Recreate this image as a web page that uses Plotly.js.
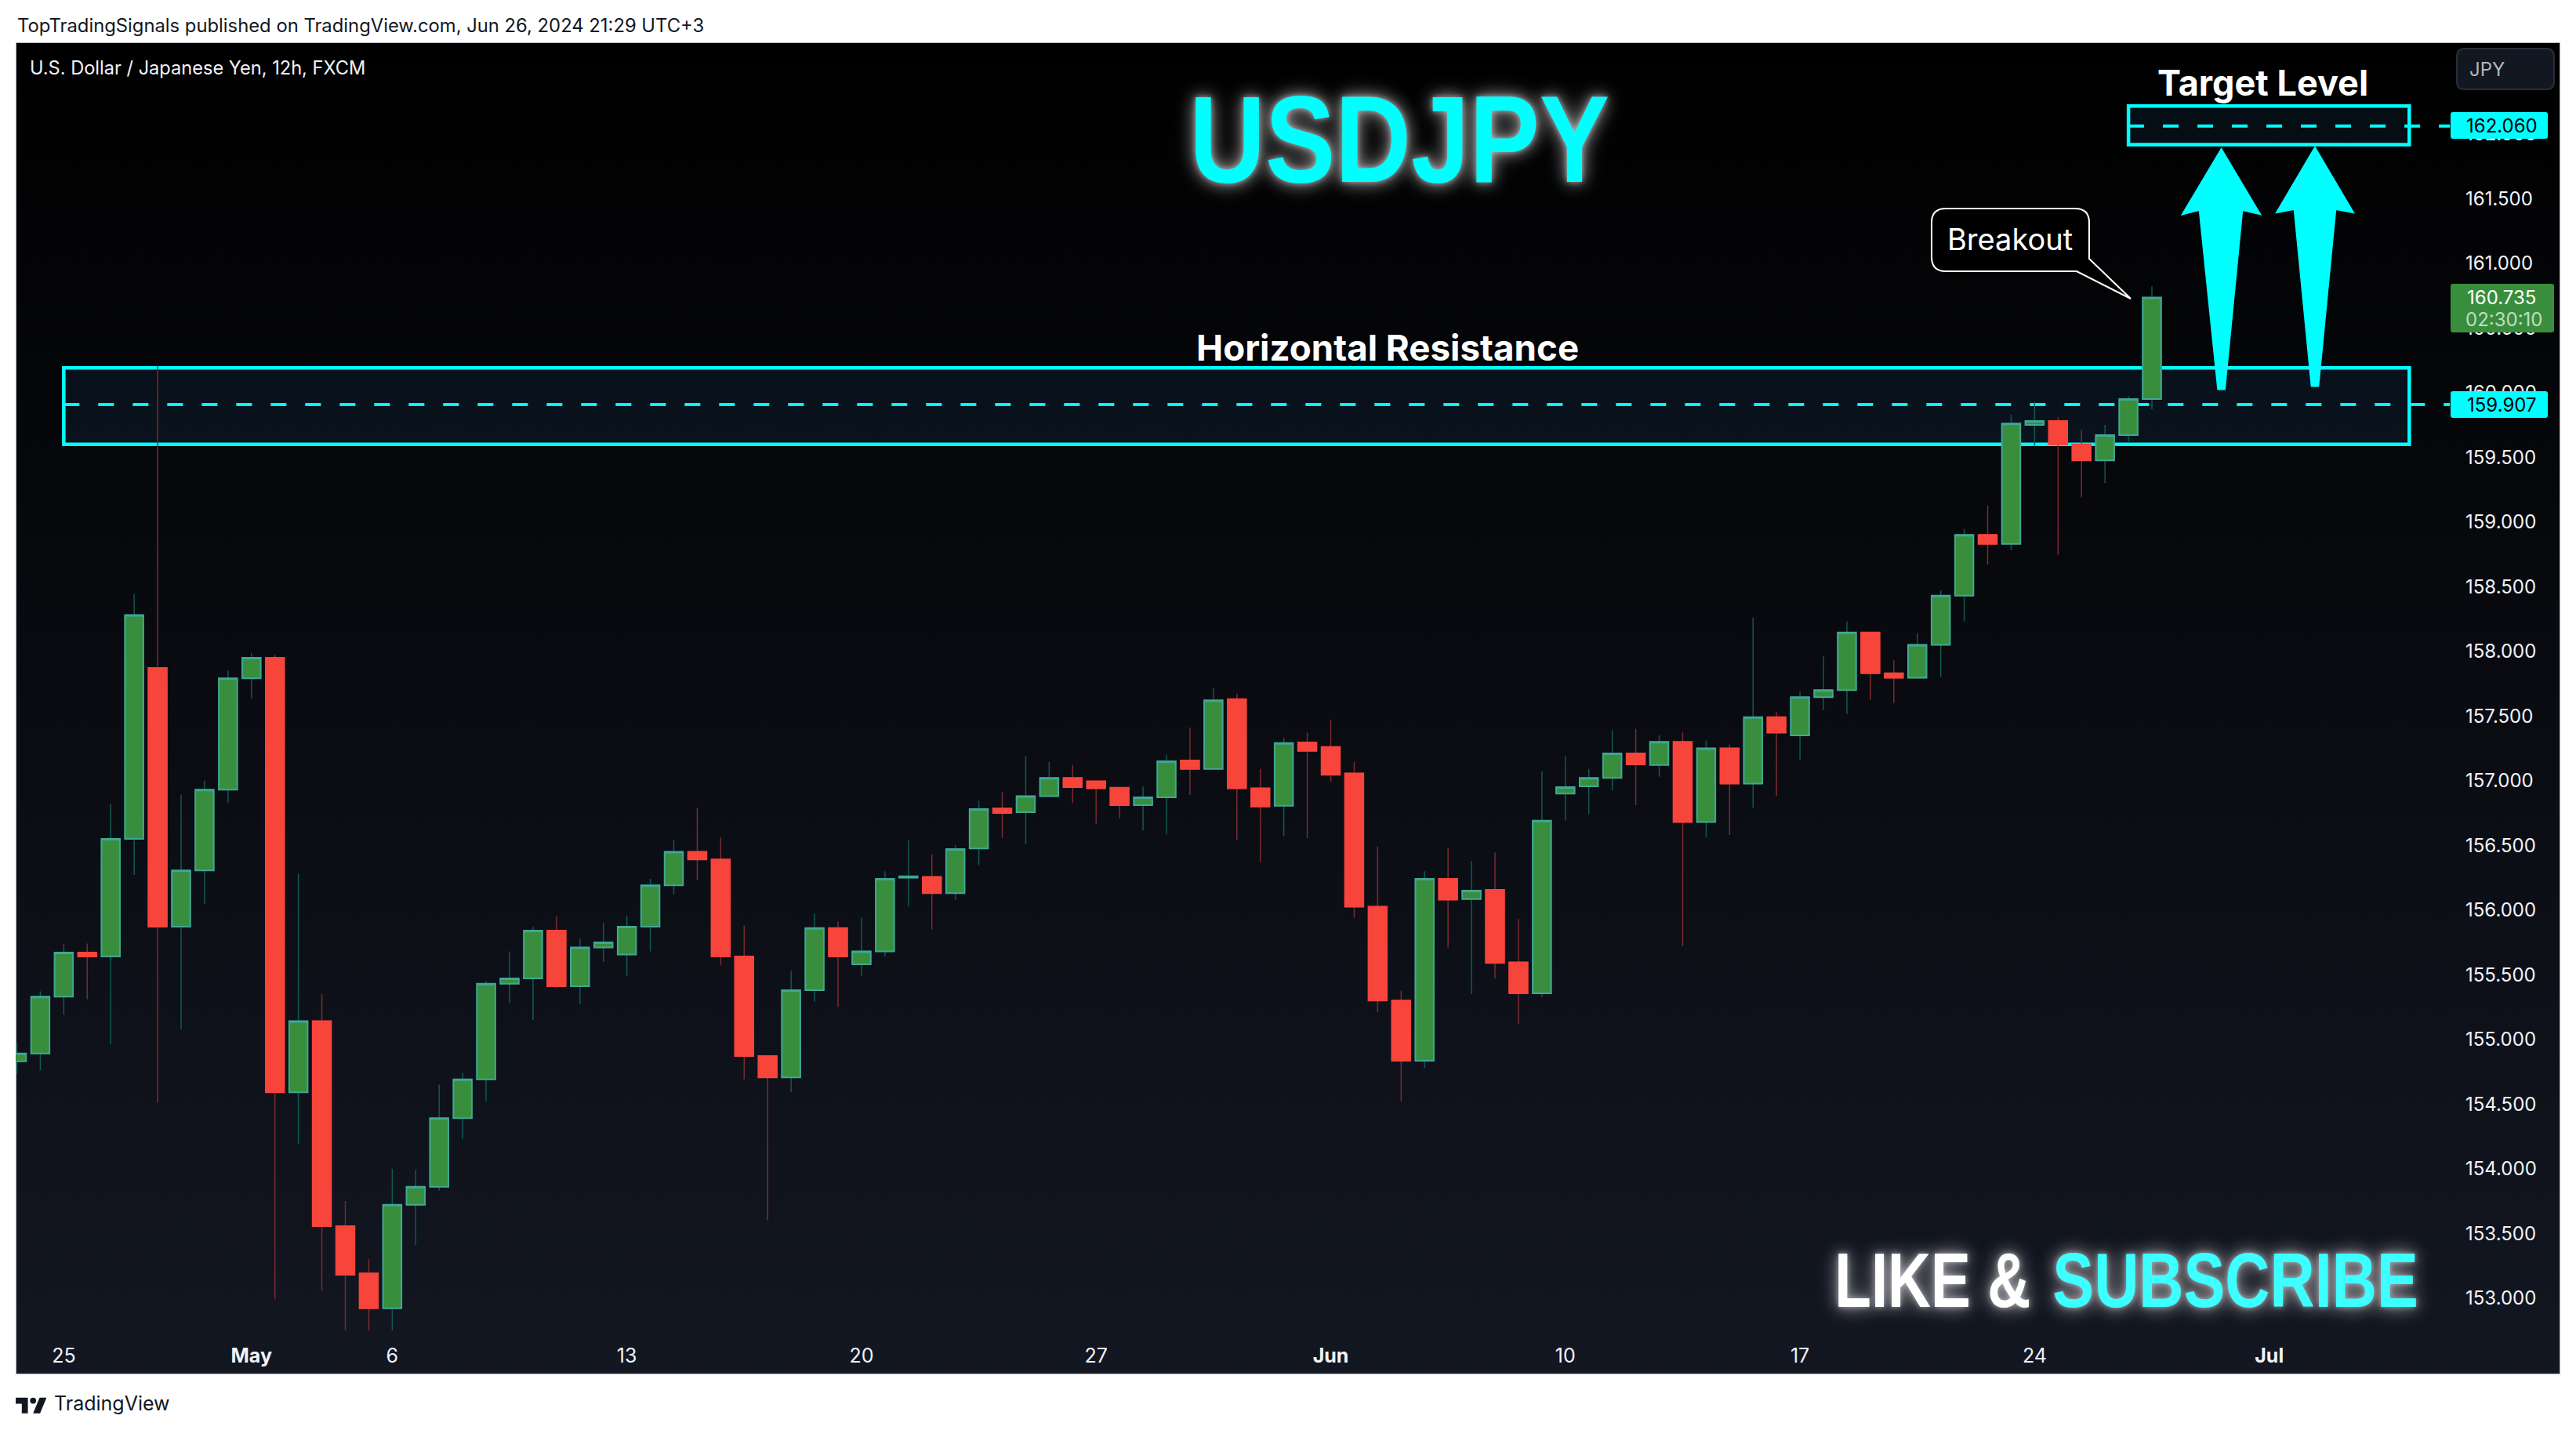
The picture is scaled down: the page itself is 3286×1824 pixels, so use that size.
<!DOCTYPE html>
<html>
<head>
<meta charset="utf-8">
<script src="https://cdn.plot.ly/plotly-3.0.1.min.js"></script>
<style>
    html, body { margin: 0; padding: 0; background: #ffffff; width: 3286px; height: 1824px; overflow: hidden; }
    #panel {
        position: absolute; left: 20px; top: 54px; width: 3244px; height: 1697px;
        border: 1px solid #b2b5be;
        background: linear-gradient(to bottom, #000000 0%, #131722 100%);
    }
    #grafico { position: absolute; left: 0; top: 0; width: 3286px; height: 1824px; }
    #logo { position: absolute; left: 20px; top: 1775px; width: 40px; height: 31px; }
</style>
</head>
<body>
<div id="panel"></div>
<div id="grafico"></div>
<svg id="logo" viewBox="0 0 36 28" fill="#131722">
    <path d="M14 25H7V14H0V7h14v18zM28 25h-8l7.5-18h8L28 25z"/><circle cx="20" cy="10.5" r="3.5"/>
</svg>
<script>
// USDJPY 12h bars, Apr 24 - Jun 26 2024
const opens = [154.83,154.89,155.33,155.67,155.64,156.55,157.87,155.87,156.305,156.93,157.79,157.95,154.59,155.14,153.555,153.19,152.92,153.72,153.86,154.39,
    154.69,155.43,155.47,155.84,155.41,155.71,155.655,155.87,156.19,156.45,156.39,155.64,154.87,154.705,155.38,155.86,155.58,155.68,156.25,156.255,
    156.13,156.475,156.785,156.755,156.88,157.02,156.995,156.945,156.81,156.87,157.155,157.09,157.63,156.94,156.805,157.295,157.26,157.055,156.025,155.30,
    154.835,156.24,156.085,156.155,155.595,155.355,156.90,156.955,157.02,157.21,157.12,157.30,156.68,157.25,156.977,157.49,157.35,157.645,157.70,158.145,
    157.83,157.795,158.05,158.43,158.90,158.83,159.75,159.78,159.60,159.475,159.67,159.95];
const highs = [154.97,155.37,155.74,155.74,156.82,158.44,160.21,156.89,157.00,157.85,157.985,157.97,156.28,155.35,153.75,153.30,154.00,153.99,154.65,154.74,
    155.45,155.68,155.87,155.95,155.78,155.90,155.955,156.24,156.54,156.79,156.56,155.88,154.87,155.53,155.97,155.91,155.94,156.30,156.54,156.43,
    156.50,156.845,156.91,157.19,157.145,157.12,157.00,156.95,156.955,157.20,157.41,157.715,157.67,157.09,157.33,157.37,157.47,157.145,156.49,155.375,
    156.30,156.48,156.38,156.445,155.93,157.07,157.19,157.09,157.39,157.40,157.35,157.37,157.31,157.28,158.26,157.53,157.69,157.96,158.23,158.15,
    157.93,158.14,158.47,158.945,159.125,159.83,159.93,159.81,159.71,159.75,159.97,160.82];
const lows = [154.73,154.76,155.19,155.31,154.96,156.27,154.51,155.08,156.05,156.83,157.635,152.99,154.19,153.055,152.75,152.75,152.75,153.41,153.83,154.23,
    154.52,155.28,155.15,155.40,155.27,155.60,155.49,155.68,156.12,156.23,155.57,154.69,153.60,154.59,155.29,155.25,155.49,155.64,156.03,155.85,
    156.08,156.35,156.555,156.51,156.88,156.825,156.665,156.71,156.615,156.585,156.89,157.09,156.54,156.37,156.57,156.555,156.99,155.94,155.21,154.52,
    154.78,155.71,155.35,155.47,155.12,155.325,156.69,156.74,156.925,156.81,157.03,155.72,156.56,156.58,156.79,156.88,157.16,157.545,157.515,157.625,
    157.60,157.795,157.80,158.23,158.67,158.78,159.58,158.745,159.19,159.30,159.62,159.87];
const closes = [154.89,155.33,155.67,155.64,156.55,158.28,155.87,156.305,156.93,157.79,157.95,154.59,155.14,153.555,153.18,152.92,153.72,153.86,154.39,154.69,
    155.43,155.47,155.84,155.41,155.71,155.75,155.87,156.19,156.45,156.39,155.64,154.87,154.705,155.38,155.86,155.64,155.68,156.24,156.26,156.13,
    156.47,156.78,156.75,156.88,157.02,156.95,156.94,156.81,156.87,157.15,157.09,157.62,156.94,156.80,157.29,157.23,157.045,156.025,155.30,154.835,
    156.24,156.08,156.15,155.59,155.355,156.69,156.95,157.02,157.21,157.125,157.30,156.68,157.25,156.977,157.49,157.37,157.645,157.70,158.145,157.83,
    157.795,158.05,158.43,158.90,158.83,159.76,159.78,159.60,159.475,159.67,159.95,160.735];

const barIndex = opens.map((_, i) => i);
const bodyTops = opens.map((o, i) => Math.max(o, closes[i]));
const bodyBottoms = opens.map((o, i) => Math.min(o, closes[i]));

const timeTickBars = [2, 10, 16, 26, 36, 46, 56, 66, 76, 86, 96];
const timeTickLabels = ['25', '<b>May</b>', '6', '13', '20', '27', '<b>Jun</b>', '10', '17', '24', '<b>Jul</b>'];
const priceTicks = [153, 153.5, 154, 154.5, 155, 155.5, 156, 156.5, 157, 157.5, 158, 158.5, 159, 159.5, 160, 160.5, 161, 161.5, 162];

const resistanceZone = [159.60, 160.19];
const resistanceLevel = 159.907;
const targetZone = [161.916, 162.215];
const targetLevel = 162.060;
const lastPrice = '160.735';
const countdown = '02:30:10';

// plot area in page pixels
const W = 3286, H = 1824;
const plotL = 20, plotR = 3135, plotT = 55, plotB = 1704;
const fx = px => (px - plotL) / (plotR - plotL);
const fy = py => 1 - (py - plotT) / (plotB - plotT);
const CYAN = '#00ffff';
const UI_FONT = 'Inter, Roboto, sans-serif';
const BANNER_FONT = 'Liberation Sans';
// no condensed bold among the installed fonts, the banners get narrowed after drawing
const BANNER_SQUEEZE = { 'USDJPY': 0.853, 'LIKE &': 0.77, 'SUBSCRIBE': 0.80 };
const WHITE_GLOW = '0 0 8px rgba(255,255,255,0.5), 0 0 20px rgba(255,255,255,0.5), 0 0 30px rgba(255,255,255,0.3)';

function note(text, px, py, size, color, extra) {
    return Object.assign({
        text: text, xref: 'paper', yref: 'paper', x: fx(px), y: fy(py),
        xanchor: 'center', yanchor: 'middle', showarrow: false,
        font: { family: UI_FONT, size: size, color: color }
    }, extra || {});
}

function bannerNote(text, px, py, size, color) {
    return note(text, px, py, size, color, {
        font: { family: BANNER_FONT, size: size, color: color, weight: 700, shadow: WHITE_GLOW }
    });
}

// path given in page pixels, converted to paper coordinates
function pxPath(cmds) {
    return cmds.map(c => c[0] + (c.length > 1 ? ' ' + c.slice(1).map((v, k) => k % 2 ? fy(v) : fx(v)).join(' ') : '')).join(' ');
}

function shapeArea(cmds, fill, lineColor, lineWidth) {
    return {
        type: 'path', xref: 'paper', yref: 'paper', layer: 'above', path: pxPath(cmds),
        fillcolor: fill, line: { color: lineColor, width: lineWidth }
    };
}

function arrow(xc, tipY, wingY, innerY, tailY, wingL, wingR, innerL, innerR) {
    return shapeArea([['M', xc, tipY], ['L', wingR, wingY], ['L', innerR, innerY], ['L', xc + 3, tailY], ['L', xc - 3, tailY],
        ['L', innerL, innerY], ['L', wingL, wingY], ['Z']], CYAN, CYAN, 5);
}

function tagRect(x0, y0, x1, y1, fill) {
    const r = 3;
    return shapeArea([['M', x0 + r, y0], ['L', x1 - r, y0], ['Q', x1, y0, x1, y0 + r], ['L', x1, y1 - r], ['Q', x1, y1, x1 - r, y1],
        ['L', x0 + r, y1], ['Q', x0, y1, x0, y1 - r], ['L', x0, y0 + r], ['Q', x0, y0, x0 + r, y0], ['Z']], fill, fill, 0);
}

const wicks = {
    type: 'candlestick', x: barIndex, open: opens, high: highs, low: lows, close: closes,
    increasing: { line: { color: '#0f5a52', width: 1.5 }, fillcolor: '#388e3c' },
    decreasing: { line: { color: '#7c2a2e', width: 1.5 }, fillcolor: '#f7453b' },
    hoverinfo: 'skip', showlegend: false
};

// second pass, only the bodies, so the outline can differ from the wick colour
const bodies = {
    type: 'candlestick', x: barIndex, open: opens, high: bodyTops, low: bodyBottoms, close: closes,
    increasing: { line: { color: '#3fa796', width: 2 }, fillcolor: '#388e3c' },
    decreasing: { line: { color: '#f7453b', width: 2 }, fillcolor: '#f7453b' },
    hoverinfo: 'skip', showlegend: false
};

const layout = {
    width: W, height: H,
    margin: { l: plotL, r: W - plotR, t: plotT, b: H - plotB, pad: 0 },
    paper_bgcolor: 'rgba(0,0,0,0)',
    plot_bgcolor: 'rgba(0,0,0,0)',
    font: { family: UI_FONT, color: '#f0f3fa', size: 24 },
    showlegend: false,
    boxgap: 0.215, boxgroupgap: 0,
    xaxis: {
        range: [-0.05, 104.03], rangeslider: { visible: false },
        tickmode: 'array', tickvals: timeTickBars, ticktext: timeTickLabels,
        showgrid: false, zeroline: false, showline: false, ticks: '',
        tickfont: { size: 25, color: '#f0f3fa' }, ticklabelstandoff: 8
    },
    yaxis: {
        side: 'right', range: [152.707, 162.701],
        tickmode: 'array', tickvals: priceTicks, tickformat: '.3f',
        showgrid: false, zeroline: false, showline: false, ticks: '',
        tickfont: { size: 24, color: '#f0f3fa' }, ticklabelstandoff: 9
    },
    shapes: [
        { type: 'rect', xref: 'x', yref: 'y', layer: 'below', x0: 2, x1: 101.97, y0: resistanceZone[0], y1: resistanceZone[1],
            fillcolor: 'rgba(50,130,200,0.1)', line: { color: CYAN, width: 4.5 } },
        { type: 'rect', xref: 'x', yref: 'y', layer: 'below', x0: 90, x1: 101.97, y0: targetZone[0], y1: targetZone[1],
            fillcolor: 'rgba(50,130,200,0.1)', line: { color: CYAN, width: 4.5 } },
        { type: 'line', xref: 'x', yref: 'y', layer: 'below', x0: 2, x1: 103.7, y0: resistanceLevel, y1: resistanceLevel,
            line: { color: CYAN, width: 4, dash: '20px,24px' } },
        { type: 'line', xref: 'x', yref: 'y', layer: 'below', x0: 90, x1: 103.7, y0: targetLevel, y1: targetLevel,
            line: { color: CYAN, width: 4, dash: '20px,24px' } },
        arrow(2833.6, 193, 271, 266, 495, 2787, 2880, 2807, 2859),
        arrow(2953, 191, 269, 265, 491, 2907, 2999, 2928, 2978),
        // Breakout callout
        shapeArea([['M', 2482, 266], ['L', 2647, 266], ['Q', 2665, 266, 2665, 284], ['L', 2665, 330], ['L', 2718, 381], ['L', 2649, 346],
            ['L', 2482, 346], ['Q', 2464, 346, 2464, 328], ['L', 2464, 284], ['Q', 2464, 266, 2482, 266], ['Z']], '#000000', '#ffffff', 2),
        tagRect(3126, 143, 3250, 177, CYAN),
        tagRect(3126, 499, 3250, 533, CYAN),
        tagRect(3126, 362, 3258, 424, '#388e3c'),
        shapeArea([['M', 3144, 62], ['L', 3248, 62], ['Q', 3258, 62, 3258, 72], ['L', 3258, 104], ['Q', 3258, 114, 3248, 114],
            ['L', 3144, 114], ['Q', 3134, 114, 3134, 104], ['L', 3134, 72], ['Q', 3134, 62, 3144, 62], ['Z']], '#131722', '#2a2e39', 2)
    ],
    annotations: [
        note('TopTradingSignals published on TradingView.com, Jun 26, 2024 21:29 UTC+3', 20, 32, 23.8, '#131722', { xanchor: 'left' }),
        note('TradingView', 67, 1790, 25, '#131722', { xanchor: 'left' }),
        note('U.S. Dollar / Japanese Yen, 12h, FXCM', 36, 86, 23.6, '#f0f3fa', { xanchor: 'left' }),
        note('JPY', 3148, 88, 24, '#b2b5be', { xanchor: 'left' }),
        note('Horizontal Resistance', 1770, 443, 45.7, '#ffffff', { font: { family: UI_FONT, size: 45.7, color: '#ffffff', weight: 700 } }),
        note('Target Level', 2886, 105, 45, '#ffffff', { font: { family: UI_FONT, size: 45, color: '#ffffff', weight: 700 } }),
        note('Breakout', 2564, 305, 38, '#ffffff', { font: { family: 'Inter, sans-serif', size: 38, color: '#ffffff' } }),
        bannerNote('USDJPY', 1785, 178, 157, CYAN),
        bannerNote('LIKE &', 2465, 1632, 99, '#ffffff'),
        bannerNote('SUBSCRIBE', 2851, 1632, 99, '#3effff'),
        note(targetLevel.toFixed(3), 3191, 160, 24, '#000000'),
        note(resistanceLevel.toFixed(3), 3191, 516, 24, '#000000'),
        note(lastPrice, 3191, 380, 24, '#ffffff'),
        note(countdown, 3194, 407, 24, '#c3dcc4')
    ]
};

Plotly.newPlot('grafico', [wicks, bodies], layout, { displayModeBar: false, staticPlot: true }).then(gd => {
    gd.querySelectorAll('.annotation-text').forEach(el => {
        const squeeze = BANNER_SQUEEZE[el.textContent];
        if (squeeze) {
            el.style.transformBox = 'fill-box';
            el.style.transformOrigin = 'center';
            el.style.transform = 'scaleX(' + squeeze + ')';
        }
    });
});
</script>
</body>
</html>
